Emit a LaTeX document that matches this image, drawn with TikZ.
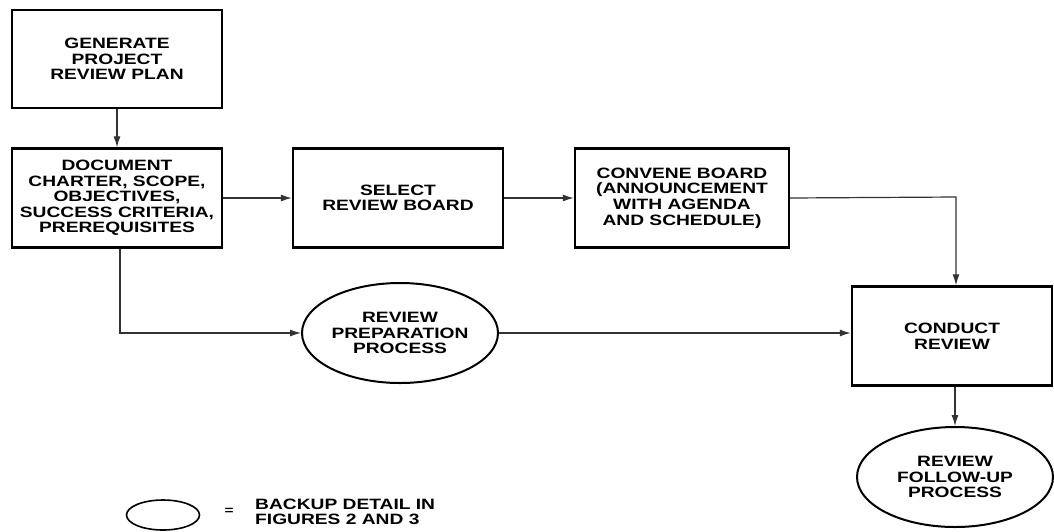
\documentclass[tikz,border=0pt]{standalone}
\usepackage{fontspec}
\setmainfont[FakeStretch=1.28]{Liberation Sans}
\usetikzlibrary{shapes.geometric,arrows.meta}
\begin{document}
\begin{tikzpicture}[x=1pt,y=-1pt,
  every node/.style={font=\bfseries\fontsize{15}{15.6}\selectfont, align=center, inner sep=0pt},
  boxnode/.style={draw, line width=2.4pt},
  ovalnode/.style={draw, ellipse, line width=2pt},
  conn/.style={line width=1.2pt, draw=black!80, -{Latex[length=11pt,width=7pt]}}]
\useasboundingbox (0,0) rectangle (1054,531);
\node[boxnode, minimum width=210pt, minimum height=98pt] (gen) at (117,59) {GENERATE\\PROJECT\\REVIEW PLAN};
\node[boxnode, minimum width=210pt, minimum height=99pt] (doc) at (117,198) {DOCUMENT\\CHARTER, SCOPE,\\OBJECTIVES,\\SUCCESS CRITERIA,\\PREREQUISITES};
\node[boxnode, minimum width=210pt, minimum height=99pt] (sel) at (398,198) {SELECT\\REVIEW BOARD};
\node[boxnode, minimum width=214pt, minimum height=99pt] (conv) at (682,198) {CONVENE BOARD\\(ANNOUNCEMENT\\WITH AGENDA\\AND SCHEDULE)};
\node[boxnode, minimum width=200pt, minimum height=99pt] (cond) at (952,336) {CONDUCT\\REVIEW};
\node[ovalnode, minimum width=196pt, minimum height=100pt] (prep) at (400,333) {REVIEW\\PREPARATION\\PROCESS};
\node[ovalnode, minimum width=196pt, minimum height=100pt] (fol) at (955,477) {REVIEW\\FOLLOW-UP\\PROCESS};
\node[ovalnode, line width=1.6pt, minimum width=73pt, minimum height=30pt] (leg) at (163,515) {};
\node[font=\bfseries\fontsize{12}{12}\selectfont] (eq) at (229,511) {=};
\node[anchor=west, align=left] (legtxt) at (255,512) {BACKUP DETAIL IN\\FIGURES 2 AND 3};
\coordinate (c1) at (956,197);
\coordinate (c2) at (120,333);
\draw[conn] (gen.south) -- (doc.north);
\draw[conn] (doc.east) -- (sel.west);
\draw[conn] (sel.east) -- (conv.west);
\draw[conn] (conv.east) -- (c1) -- (c1 |- cond.north);
\draw[conn] (doc.south -| c2) -- (c2) -- (prep.west);
\draw[conn] (prep.east) -- (cond.west |- prep.east);
\draw[conn] (cond.south -| fol.north) -- (fol.north);
\end{tikzpicture}
\end{document}
